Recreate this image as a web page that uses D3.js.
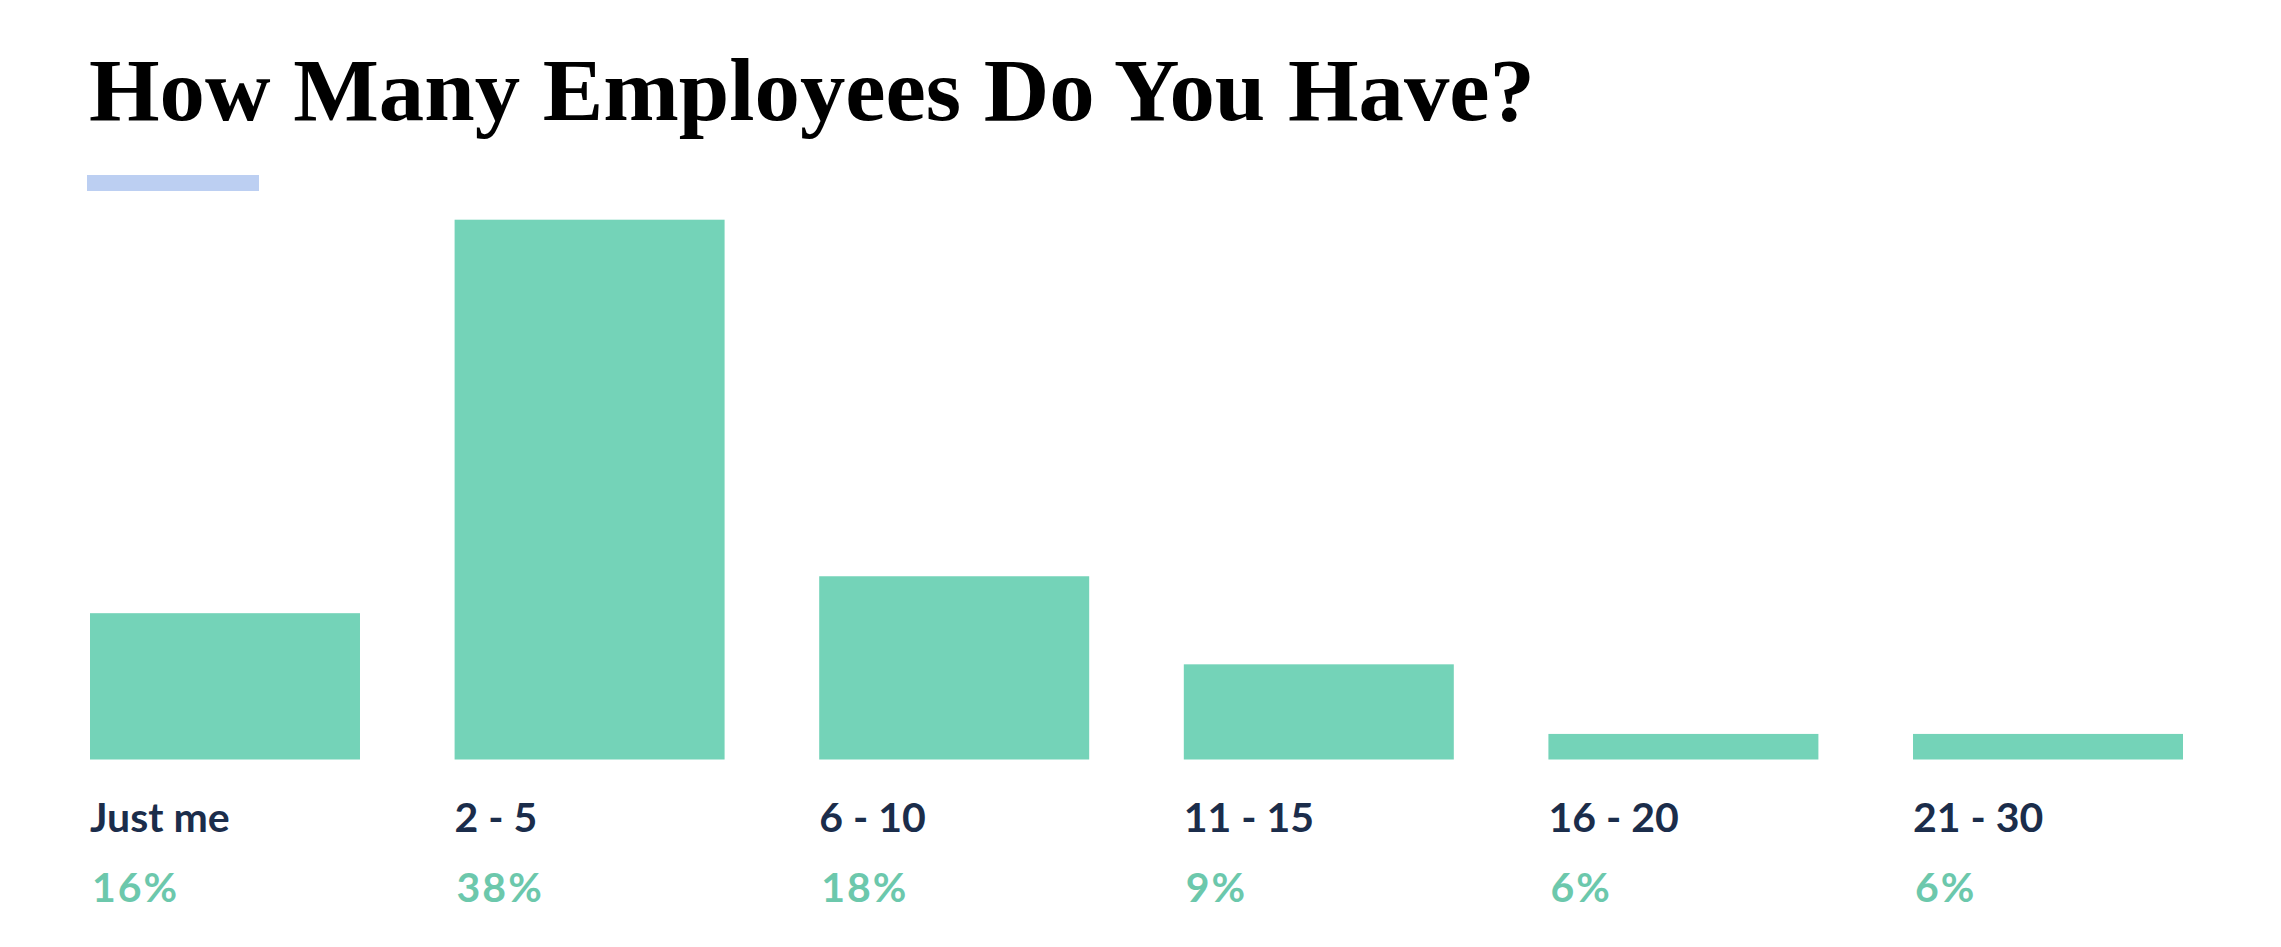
<!DOCTYPE html>
<html>
<head>
<meta charset="utf-8">
<script src="https://cdn.jsdelivr.net/npm/d3@7"></script>
<style>
  html, body { margin: 0; padding: 0; background: #ffffff; }
  svg { display: block; }
</style>
</head>
<body>
<svg id="chart" width="2281" height="947"></svg>
<script>
const title = "How Many Employees Do You Have?";
const categories = ["Just me", "2 - 5", "6 - 10", "11 - 15", "16 - 20", "21 - 30"];
const percentLabels = ["16%", "38%", "18%", "9%", "6%", "6%"];
// bar heights as drawn in the picture (same units as the 38% bar)
const barValues = [10.3, 38, 12.9, 6.7, 1.8, 1.8];

const W = 2281, H = 947;
const svg = d3.select("#chart");
svg.append("rect").attr("width", W).attr("height", H).attr("fill", "#ffffff");

// Title
svg.append("text")
  .attr("x", 89).attr("y", 120)
  .attr("font-family", "'Liberation Serif', 'DejaVu Serif', serif")
  .attr("font-weight", "bold")
  .attr("font-size", 88)
  .attr("fill", "#000000")
  .attr("textLength", 1446)
  .attr("lengthAdjust", "spacingAndGlyphs")
  .text(title);

// Accent underline
svg.append("rect")
  .attr("x", 87).attr("y", 175).attr("width", 172).attr("height", 16)
  .attr("fill", "#bccff2");

const x = d3.scaleBand()
  .domain(categories)
  .range([90, 2183])
  .paddingInner(0.2595)
  .paddingOuter(0);

const y = d3.scaleLinear()
  .domain([0, 38])
  .range([759.5, 219.7]);

svg.append("g").selectAll("rect")
  .data(categories)
  .join("rect")
  .attr("x", d => x(d))
  .attr("y", (d, i) => y(barValues[i]))
  .attr("width", x.bandwidth())
  .attr("height", (d, i) => y(0) - y(barValues[i]))
  .attr("fill", "#74d3b8");

svg.append("g").selectAll("text")
  .data(categories)
  .join("text")
  .attr("x", d => x(d))
  .attr("y", 832)
  .attr("font-family", "Lato, 'Open Sans', sans-serif")
  .attr("font-weight", "bold")
  .attr("font-size", 41)
  .attr("fill", "#1b2d4b")
  .text(d => d);

svg.append("g").selectAll("text")
  .data(categories)
  .join("text")
  .attr("x", d => x(d) + 2)
  .attr("y", 902)
  .attr("font-family", "Lato, 'Open Sans', sans-serif")
  .attr("font-weight", "bold")
  .attr("font-size", 41)
  .attr("letter-spacing", 2)
  .attr("fill", "#6cc8ac")
  .text((d, i) => percentLabels[i]);
</script>
</body>
</html>
